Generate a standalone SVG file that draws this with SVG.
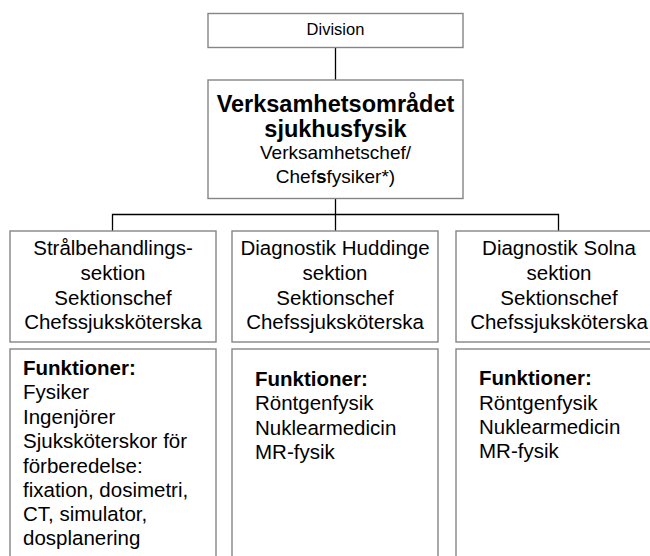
<svg xmlns="http://www.w3.org/2000/svg" width="650" height="556" viewBox="0 0 650 556">
<style>
.box{fill:#fff;stroke:#858585;stroke-width:1.4}
.conn{stroke:#000;stroke-width:1.3;fill:none}
text{font-family:"Liberation Sans",Arial,sans-serif;fill:#000}
.c{text-anchor:middle}
.s{font-size:20.5px}
.b{font-weight:bold}
</style>
<rect width="650" height="556" fill="#fff"/>
<g id="connectors">
<line class="conn" x1="335.5" y1="48" x2="335.5" y2="80"/>
<line class="conn" x1="335.5" y1="199" x2="335.5" y2="231"/>
<polyline class="conn" points="112.5,231 112.5,214.5 558.5,214.5 558.5,231"/>
</g>
<g id="division">
<rect class="box" x="208" y="13.5" width="255" height="34"/>
<text class="c" x="335.5" y="35" style="font-size:16.5px">Division</text>
</g>
<g id="verksamhetsomradet">
<rect class="box" x="208" y="80" width="255" height="118.5"/>
<text class="c b" x="335.5" y="112" style="font-size:23.5px">Verksamhetsområdet</text>
<text class="c b" x="335.5" y="137" style="font-size:23.5px">sjukhusfysik</text>
<text class="c" x="335.5" y="159" style="font-size:19px">Verksamhetschef/</text>
<text class="c" x="335.5" y="183" style="font-size:19px">Chef<tspan class="b">s</tspan>fysiker*)</text>
</g>
<g id="stralbehandling">
<rect class="box" x="10" y="231" width="206" height="111"/>
<text class="c s" x="113" y="255">Strålbehandlings-</text>
<text class="c s" x="113" y="280">sektion</text>
<text class="c s" x="113" y="305">Sektionschef</text>
<text class="c s" x="113" y="329">Chefssjuksköterska</text>
</g>
<g id="huddinge">
<rect class="box" x="232" y="231" width="206" height="111"/>
<text class="c s" x="335" y="255">Diagnostik Huddinge</text>
<text class="c s" x="335" y="280">sektion</text>
<text class="c s" x="335" y="305">Sektionschef</text>
<text class="c s" x="335" y="329">Chefssjuksköterska</text>
</g>
<g id="solna">
<rect class="box" x="456" y="231" width="206" height="111"/>
<text class="c s" x="559" y="255">Diagnostik Solna</text>
<text class="c s" x="559" y="280">sektion</text>
<text class="c s" x="559" y="305">Sektionschef</text>
<text class="c s" x="559" y="329">Chefssjuksköterska</text>
</g>
<g id="funktioner-stral">
<rect class="box" x="10" y="349" width="206" height="220"/>
<text class="s b" x="23" y="375">Funktioner:</text>
<text class="s" x="23" y="399">Fysiker</text>
<text class="s" x="23" y="424">Ingenjörer</text>
<text class="s" x="23" y="448">Sjuksköterskor för</text>
<text class="s" x="23" y="473">förberedelse:</text>
<text class="s" x="23" y="497">fixation, dosimetri,</text>
<text class="s" x="23" y="521">CT, simulator,</text>
<text class="s" x="23" y="545">dosplanering</text>
</g>
<g id="funktioner-huddinge">
<rect class="box" x="232" y="349" width="206" height="220"/>
<text class="s b" x="255" y="386">Funktioner:</text>
<text class="s" x="255" y="410">Röntgenfysik</text>
<text class="s" x="255" y="435">Nuklearmedicin</text>
<text class="s" x="255" y="459">MR-fysik</text>
</g>
<g id="funktioner-solna">
<rect class="box" x="456" y="349" width="206" height="220"/>
<text class="s b" x="479" y="385">Funktioner:</text>
<text class="s" x="479" y="410">Röntgenfysik</text>
<text class="s" x="479" y="434">Nuklearmedicin</text>
<text class="s" x="479" y="458">MR-fysik</text>
</g>
</svg>
